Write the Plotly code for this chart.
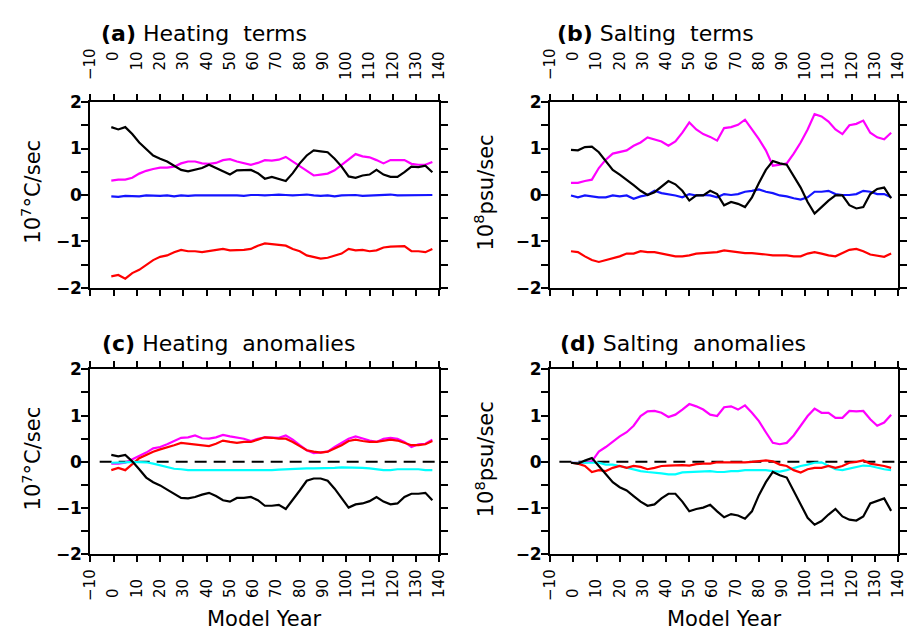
import plotly.graph_objects as go

# ---------------- data ----------------
years = list(range(-1, 138, 3))  # 47 model years

# (a) Heating terms
black_a = [1.46, 1.41, 1.46, 1.31, 1.13, 0.99, 0.85, 0.78, 0.72, 0.63,
           0.54, 0.51, 0.54, 0.58, 0.65, 0.58, 0.51, 0.44, 0.53, 0.53,
           0.54, 0.47, 0.35, 0.39, 0.35, 0.30, 0.47, 0.68, 0.85, 0.96,
           0.94, 0.92, 0.78, 0.61, 0.40, 0.37, 0.42, 0.44, 0.54, 0.44,
           0.39, 0.39, 0.49, 0.61, 0.60, 0.63, 0.49]
magenta_a = [0.31, 0.33, 0.33, 0.37, 0.46, 0.52, 0.56, 0.59, 0.59, 0.61,
             0.68, 0.72, 0.72, 0.68, 0.67, 0.69, 0.75, 0.77, 0.72, 0.69,
             0.65, 0.69, 0.75, 0.74, 0.76, 0.82, 0.72, 0.61, 0.51, 0.42,
             0.44, 0.46, 0.53, 0.65, 0.78, 0.88, 0.83, 0.81, 0.75, 0.68,
             0.75, 0.75, 0.75, 0.67, 0.65, 0.65, 0.71]
blue_a = [-0.03, -0.04, -0.02, -0.03, -0.03, -0.01, -0.02, -0.02, -0.01, -0.03,
          -0.01, -0.02, -0.01, -0.01, 0.00, -0.01, 0.00, -0.01, -0.01, -0.02,
          0.00, 0.00, -0.01, 0.00, 0.01, 0.00, -0.01, 0.00, 0.01, -0.01,
          -0.02, -0.01, -0.03, -0.01, 0.00, 0.00, -0.02, -0.01, 0.00, 0.00,
          0.01, -0.01, -0.01, 0.00, -0.01, -0.01, 0.00]
red_a = [-1.75, -1.72, -1.80, -1.68, -1.61, -1.51, -1.40, -1.33, -1.30, -1.23,
         -1.18, -1.21, -1.21, -1.23, -1.21, -1.18, -1.16, -1.19, -1.19, -1.18,
         -1.16, -1.09, -1.04, -1.06, -1.07, -1.09, -1.16, -1.21, -1.30, -1.33,
         -1.37, -1.35, -1.30, -1.26, -1.16, -1.19, -1.18, -1.21, -1.19, -1.13,
         -1.11, -1.11, -1.10, -1.21, -1.21, -1.23, -1.16]

# (b) Salting terms
magenta_b = [0.26, 0.26, 0.30, 0.33, 0.58, 0.76, 0.89, 0.92, 0.96, 1.06,
             1.13, 1.24, 1.20, 1.15, 1.06, 1.15, 1.34, 1.56, 1.41, 1.31,
             1.25, 1.17, 1.44, 1.46, 1.51, 1.62, 1.41, 1.20, 0.96, 0.63,
             0.65, 0.68, 0.89, 1.13, 1.41, 1.74, 1.69, 1.58, 1.41, 1.31,
             1.50, 1.53, 1.60, 1.34, 1.24, 1.20, 1.34]
black_b = [0.97, 0.96, 1.03, 1.04, 0.92, 0.72, 0.54, 0.44, 0.33, 0.21,
           0.09, 0.00, 0.06, 0.18, 0.30, 0.23, 0.09, -0.12, -0.01, -0.01,
           0.09, 0.02, -0.22, -0.15, -0.19, -0.26, -0.05, 0.26, 0.54, 0.73,
           0.68, 0.65, 0.40, 0.16, -0.15, -0.40, -0.26, -0.12, -0.01, -0.01,
           -0.22, -0.29, -0.26, 0.02, 0.13, 0.16, -0.07]
blue_b = [-0.01, -0.05, -0.01, -0.03, -0.05, -0.05, -0.01, -0.03, -0.01, -0.08,
          -0.03, 0.00, 0.09, 0.04, 0.02, -0.01, -0.05, 0.02, -0.01, 0.00,
          -0.01, -0.05, 0.02, 0.00, 0.02, 0.07, 0.09, 0.12, 0.07, 0.04,
          -0.01, -0.03, -0.07, -0.10, -0.05, 0.07, 0.07, 0.09, 0.02, 0.00,
          0.00, 0.02, 0.09, 0.07, 0.02, 0.02, -0.05]
red_b = [-1.21, -1.23, -1.32, -1.40, -1.44, -1.40, -1.37, -1.32, -1.26, -1.26,
         -1.21, -1.23, -1.23, -1.26, -1.28, -1.32, -1.32, -1.30, -1.26, -1.25,
         -1.23, -1.23, -1.19, -1.21, -1.23, -1.25, -1.25, -1.26, -1.28, -1.30,
         -1.30, -1.30, -1.32, -1.32, -1.26, -1.23, -1.26, -1.30, -1.32, -1.25,
         -1.18, -1.16, -1.21, -1.28, -1.30, -1.33, -1.26]

# (c) Heating anomalies
black_c = [0.15, 0.12, 0.15, 0.01, -0.16, -0.34, -0.44, -0.51, -0.60, -0.69,
           -0.78, -0.79, -0.76, -0.71, -0.67, -0.74, -0.83, -0.86, -0.78, -0.78,
           -0.76, -0.83, -0.95, -0.95, -0.93, -1.02, -0.83, -0.62, -0.41, -0.36,
           -0.36, -0.41, -0.58, -0.79, -0.99, -0.92, -0.90, -0.85, -0.76, -0.86,
           -0.92, -0.90, -0.76, -0.69, -0.69, -0.67, -0.83]
magenta_c = [-0.04, -0.04, -0.02, 0.05, 0.13, 0.20, 0.29, 0.32, 0.38, 0.45,
             0.52, 0.53, 0.57, 0.51, 0.50, 0.53, 0.58, 0.55, 0.52, 0.50,
             0.45, 0.50, 0.53, 0.53, 0.52, 0.57, 0.48, 0.36, 0.25, 0.19,
             0.20, 0.22, 0.32, 0.41, 0.50, 0.55, 0.50, 0.46, 0.43, 0.50,
             0.52, 0.50, 0.43, 0.32, 0.38, 0.39, 0.48]
red_c = [-0.18, -0.13, -0.18, -0.06, 0.08, 0.15, 0.22, 0.27, 0.31, 0.36,
         0.41, 0.39, 0.38, 0.36, 0.34, 0.39, 0.46, 0.43, 0.41, 0.43,
         0.43, 0.48, 0.53, 0.52, 0.50, 0.50, 0.43, 0.34, 0.25, 0.22,
         0.20, 0.22, 0.29, 0.36, 0.45, 0.48, 0.45, 0.43, 0.43, 0.46,
         0.48, 0.46, 0.41, 0.36, 0.36, 0.38, 0.45]
cyan_c = [-0.02, -0.02, -0.01, 0.00, 0.00, -0.01, -0.04, -0.08, -0.12, -0.15,
          -0.16, -0.18, -0.18, -0.18, -0.19, -0.19, -0.19, -0.18, -0.18, -0.18,
          -0.18, -0.19, -0.18, -0.18, -0.17, -0.16, -0.15, -0.14, -0.14, -0.14,
          -0.14, -0.13, -0.13, -0.12, -0.12, -0.13, -0.13, -0.14, -0.16, -0.18,
          -0.18, -0.16, -0.16, -0.16, -0.16, -0.18, -0.18]

# (d) Salting anomalies
black_d = [-0.02, -0.04, 0.03, 0.08, -0.09, -0.27, -0.44, -0.55, -0.62, -0.74,
           -0.86, -0.95, -0.92, -0.79, -0.69, -0.69, -0.86, -1.07, -1.02, -0.99,
           -0.93, -1.07, -1.20, -1.13, -1.16, -1.23, -1.07, -0.72, -0.44, -0.22,
           -0.29, -0.34, -0.62, -0.93, -1.21, -1.36, -1.28, -1.14, -1.02, -1.18,
           -1.25, -1.27, -1.18, -0.90, -0.85, -0.79, -1.06]
magenta_d = [-0.02, -0.02, -0.02, 0.01, 0.22, 0.32, 0.43, 0.55, 0.64, 0.78,
             0.99, 1.09, 1.10, 1.06, 0.97, 1.02, 1.13, 1.25, 1.20, 1.13,
             1.02, 0.99, 1.18, 1.20, 1.13, 1.22, 1.06, 0.88, 0.64, 0.41,
             0.38, 0.41, 0.57, 0.78, 0.99, 1.15, 1.06, 1.06, 0.95, 0.95,
             1.10, 1.09, 1.10, 0.92, 0.78, 0.85, 1.02]
red_d = [-0.02, -0.04, -0.09, -0.22, -0.18, -0.20, -0.13, -0.09, -0.13, -0.09,
         -0.11, -0.16, -0.13, -0.09, -0.08, -0.07, -0.07, -0.08, -0.05, -0.04,
         -0.04, -0.01, -0.01, -0.02, -0.01, -0.01, 0.00, 0.02, 0.03, 0.01,
         -0.06, -0.09, -0.18, -0.23, -0.16, -0.13, -0.13, -0.09, -0.13, -0.09,
         -0.02, 0.00, 0.03, -0.04, -0.06, -0.09, -0.13]
cyan_d = [-0.02, -0.02, -0.02, -0.01, -0.02, -0.06, -0.06, -0.09, -0.13, -0.16,
          -0.20, -0.22, -0.23, -0.25, -0.27, -0.27, -0.23, -0.22, -0.22, -0.20,
          -0.20, -0.22, -0.22, -0.20, -0.20, -0.18, -0.18, -0.18, -0.18, -0.20,
          -0.21, -0.18, -0.13, -0.09, -0.06, -0.02, -0.01, -0.09, -0.16, -0.18,
          -0.15, -0.11, -0.08, -0.09, -0.13, -0.16, -0.18]

zero_x = [-6, 140]
zero_y = [0, 0]

x_ticks = list(range(-10, 141, 10))
y_ticks = [-2, -1, 0, 1, 2]
y_minor_ticks = [-1.5, -0.5, 0.5, 1.5]
y_ticktext = ["\u22122", "\u22121", "0", "1", "2"]

titles = ["(a)", "(b)", "(c)", "(d)"]
subtitles = ["Heating  terms", "Salting  terms", "Heating  anomalies", "Salting  anomalies"]
ytitles = ["10<sup>7</sup>\u00b0C/sec", "10<sup>8</sup>psu/sec",
           "10<sup>7</sup>\u00b0C/sec", "10<sup>8</sup>psu/sec"]
xlabel = "Model Year"

# ---------------- style / layout ----------------
W, H = 912, 636
FONT = "DejaVu Sans"
MAG, BLU, RED, CYA, BLK = "#ff00ff", "#1414ff", "#ff0000", "#00ffff", "#000000"
HIDE = '<span style="color:rgba(0,0,0,0)">{}</span>'

def fx(p):
    return p / W

def fy(p):
    return 1 - p / H

# pixel boxes (left, right, top, bottom)
boxes = [(83, 439, 95, 287), (552, 907, 95, 287), (83, 439, 371, 562), (552, 907, 371, 562)]

def lab(v):
    return ("\u2212" + str(-v)) if v < 0 else str(v)

def top_lab(v):
    s = lab(v)
    n = 3 - len(s)
    return (HIDE.format("0" * n) + s) if (v >= 0 and n > 0) else s

def bot_lab(v):
    s = lab(v)
    n = 3 - len(s)
    return (s + HIDE.format("0" * n)) if (v >= 0 and n > 0) else s

top_text = [top_lab(v) for v in x_ticks]
bot_text = [bot_lab(v) for v in x_ticks]

fig = go.Figure()

panel_series = [
    [(red_a, RED), (blue_a, BLU), (magenta_a, MAG), (black_a, BLK)],
    [(red_b, RED), (blue_b, BLU), (magenta_b, MAG), (black_b, BLK)],
    [(magenta_c, MAG), (red_c, RED), (cyan_c, CYA), (black_c, BLK)],
    [(magenta_d, MAG), (cyan_d, CYA), (red_d, RED), (black_d, BLK)],
]

for i, series in enumerate(panel_series):
    xa = "x" if i == 0 else f"x{i+1}"
    ya = "y" if i == 0 else f"y{i+1}"
    if i >= 2:
        fig.add_trace(go.Scatter(x=zero_x, y=zero_y, mode="lines", xaxis=xa, yaxis=ya,
                                 line=dict(color="black", width=2, dash="12px,7px"),
                                 showlegend=False, hoverinfo="skip"))
    for vals, col in series:
        fig.add_trace(go.Scatter(x=years, y=vals, mode="lines", xaxis=xa, yaxis=ya,
                                 line=dict(color=col, width=2.2),
                                 showlegend=False))

layout = dict(width=W, height=H, autosize=False,
              margin=dict(l=0, r=0, t=0, b=0, pad=0),
              paper_bgcolor="white", plot_bgcolor="white",
              showlegend=False)

annotations = []
for i, (l, r, t, b) in enumerate(boxes):
    sx = "" if i == 0 else str(i + 1)
    top = i < 2
    layout["xaxis" + sx] = dict(
        domain=[fx(l), fx(r)], range=[-10, 140], anchor="y" + sx,
        side="top" if top else "bottom",
        tickmode="array", tickvals=x_ticks, ticktext=top_text if top else bot_text,
        tickangle=-90, ticks="outside", ticklen=6, tickwidth=1.5, tickcolor="black",
        ticklabelstandoff=11 if top else 1,
        showline=True, linewidth=2, linecolor="black", mirror="ticks",
        showgrid=False, zeroline=False,
        tickfont=dict(family=FONT, size=15, color="black"))
    layout["yaxis" + sx] = dict(
        domain=[fy(b), fy(t)], range=[-2, 2], anchor="x" + sx,
        tickmode="array", tickvals=y_ticks, ticktext=y_ticktext,
        ticks="outside", ticklen=7, tickwidth=1.5, tickcolor="black",
        minor=dict(tickmode="array", tickvals=y_minor_ticks, ticks="outside",
                   ticklen=7, tickwidth=1.5, tickcolor="black"),
        ticklabelstandoff=-4,
        showline=True, linewidth=2, linecolor="black", mirror="ticks",
        showgrid=False, zeroline=False,
        tickfont=dict(family=FONT, size=17, color="black", weight="bold"))

    tx = [92, 557, 93, 560][i]
    ty = [24, 24, 344, 344][i]
    annotations.append(dict(xref="paper", yref="paper", x=fx(tx), y=fy(ty),
                            xanchor="left", yanchor="middle", showarrow=False,
                            text=f"<b>{titles[i]}</b> {subtitles[i]}",
                            font=dict(family=FONT, size=22, color="black")))
    yx = [23, 485, 23, 485][i]
    annotations.append(dict(xref="paper", yref="paper", x=fx(yx), y=fy((t + b) / 2 - 3),
                            xanchor="center", yanchor="middle", showarrow=False,
                            textangle=-90, text=ytitles[i],
                            font=dict(family=FONT, size=21, color="black")))
    if not top:
        annotations.append(dict(xref="paper", yref="paper", x=fx((l + r) / 2), y=fy(629),
                                xanchor="center", yanchor="middle", showarrow=False,
                                text=xlabel,
                                font=dict(family=FONT, size=21, color="black")))

layout["annotations"] = annotations

fig.update_layout(**layout)
fig.write_html("out.html")
